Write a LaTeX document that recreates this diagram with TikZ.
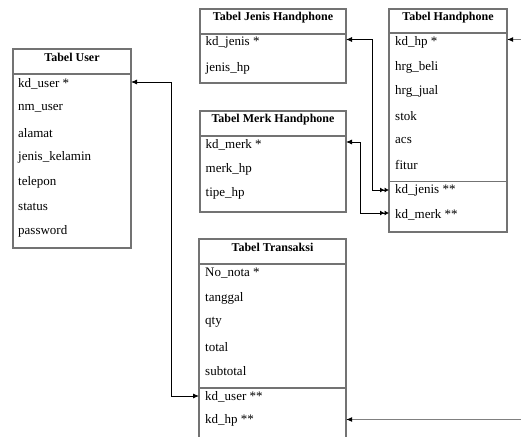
\documentclass[tikz,border=0pt]{standalone}
\usepackage{fontspec}
\setmainfont{Liberation Serif}
\usetikzlibrary{arrows.meta}
\tikzset{
  tbl/.style={draw=black!55, line width=1.2pt, anchor=north west, inner sep=0pt, outer sep=0pt},
  ttl/.style={font=\bfseries\fontsize{12}{14}\selectfont, anchor=center, inner sep=0pt},
  fld/.style={font=\fontsize{13}{15}\selectfont, anchor=west, inner sep=0pt, yshift=-1.5pt},
  sep/.style={draw=black!55, line width=1.2pt},
  link/.style={draw=black, line width=0.8pt},
  farlink/.style={draw=black!50, line width=1.2pt},
  onehead/.style={-{Latex[length=6pt,width=5pt,color=black]}},
  bothone/.style={{Latex[length=6pt,width=5pt]}-{Latex[length=6pt,width=5pt]}},
  onetwo/.style={{Latex[length=6pt,width=5pt]}-{Latex[length=4.5pt,width=5pt]Latex[length=4.5pt,width=5pt]}},
}
\begin{document}
\begin{tikzpicture}[x=1pt,y=-1pt]
\useasboundingbox (0,0) rectangle (521,436);

% ---------- Tabel User ----------
\node[tbl, minimum width=118pt, minimum height=199pt] (user) at (13,49) {};
\node[ttl] (userT) at ([yshift=-8.5pt]user.north) {Tabel User};
\draw[sep] (user.west |- 0,74) -- (user.east |- 0,74);
\node[fld] (u1) at (18,82)    {kd\_user *};
\node[fld] (u2) at (18,106.6) {nm\_user};
\node[fld] (u3) at (18,131.2) {alamat};
\node[fld] (u4) at (18,155.8) {jenis\_kelamin};
\node[fld] (u5) at (18,180.4) {telepon};
\node[fld] (u6) at (18,205)   {status};
\node[fld] (u7) at (18,229.6) {password};

% ---------- Tabel Jenis Handphone ----------
\node[tbl, minimum width=146pt, minimum height=74pt] (jenis) at (200,9) {};
\node[ttl] (jenisT) at ([yshift=-8.5pt]jenis.north) {Tabel Jenis Handphone};
\draw[sep] (jenis.west |- 0,34) -- (jenis.east |- 0,34);
\node[fld] (j1) at (205.5,41)   {kd\_jenis *};
\node[fld] (j2) at (205.5,66.5) {jenis\_hp};

% ---------- Tabel Handphone ----------
\node[tbl, minimum width=118pt, minimum height=223pt] (hp) at (389,9) {};
\node[ttl] (hpT) at ([yshift=-8.5pt]hp.north) {Tabel Handphone};
\draw[sep] (hp.west |- 0,33) -- (hp.east |- 0,33);
\draw[sep] (hp.west |- 0,181.5) -- (hp.east |- 0,181.5);
\node[fld] (h1) at (395,41)    {kd\_hp *};
\node[fld] (h2) at (395,65.5)  {hrg\_beli};
\node[fld] (h3) at (395,90)    {hrg\_jual};
\node[fld] (h4) at (395,114.5) {stok};
\node[fld] (h5) at (395,139)   {acs};
\node[fld] (h6) at (395,163.5) {fitur};
\node[fld] (h7) at (395,188.5) {kd\_jenis **};
\node[fld] (h8) at (395,213)   {kd\_merk **};

% ---------- Tabel Merk Handphone ----------
\node[tbl, minimum width=146pt, minimum height=101pt] (merk) at (200,111) {};
\node[ttl] (merkT) at ([yshift=-8.5pt]merk.north) {Tabel Merk Handphone};
\draw[sep] (merk.west |- 0,136) -- (merk.east |- 0,136);
\node[fld] (m1) at (205.5,143) {kd\_merk *};
\node[fld] (m2) at (205.5,168) {merk\_hp};
\node[fld] (m3) at (205.5,192) {tipe\_hp};

% ---------- Tabel Transaksi (runs past the lower edge) ----------
\node[tbl, minimum width=147pt, minimum height=200pt] (trans) at (199,239) {};
\node[ttl] (transT) at ([yshift=-8.5pt]trans.north) {Tabel Transaksi};
\draw[sep] (trans.west |- 0,264) -- (trans.east |- 0,264);
\draw[sep] (trans.west |- 0,388) -- (trans.east |- 0,388);
\node[fld] (t1) at (205,272)   {No\_nota *};
\node[fld] (t2) at (205,296.5) {tanggal};
\node[fld] (t3) at (205,321)   {qty};
\node[fld] (t4) at (205,345.5) {total};
\node[fld] (t5) at (205,370)   {subtotal};
\node[fld] (t6) at (205,395)   {kd\_user **};
\node[fld] (t7) at (205,419)   {kd\_hp **};

% ---------- relations ----------
\coordinate (ubend) at (171,0);
\coordinate (jbend) at (372,0);
\coordinate (mbend) at (360,0);
\coordinate (edge)  at (521,0);

\draw[link, bothone] (user.east |- 0,82) -| (ubend |- 0,396) -- (trans.west |- 0,396);
\draw[link, onetwo] (jenis.east |- 0,39.5) -| (jbend |- 0,190) -- (hp.west |- 0,190);
\draw[link, onetwo] (merk.east |- 0,142) -| (mbend |- 0,213) -- (hp.west |- 0,213);
\draw[farlink, onehead] (edge |- 0,39.5) -- (hp.east |- 0,39.5);
\draw[farlink, onehead] (edge |- 0,419.5) -- (trans.east |- 0,419.5);
\end{tikzpicture}
\end{document}
